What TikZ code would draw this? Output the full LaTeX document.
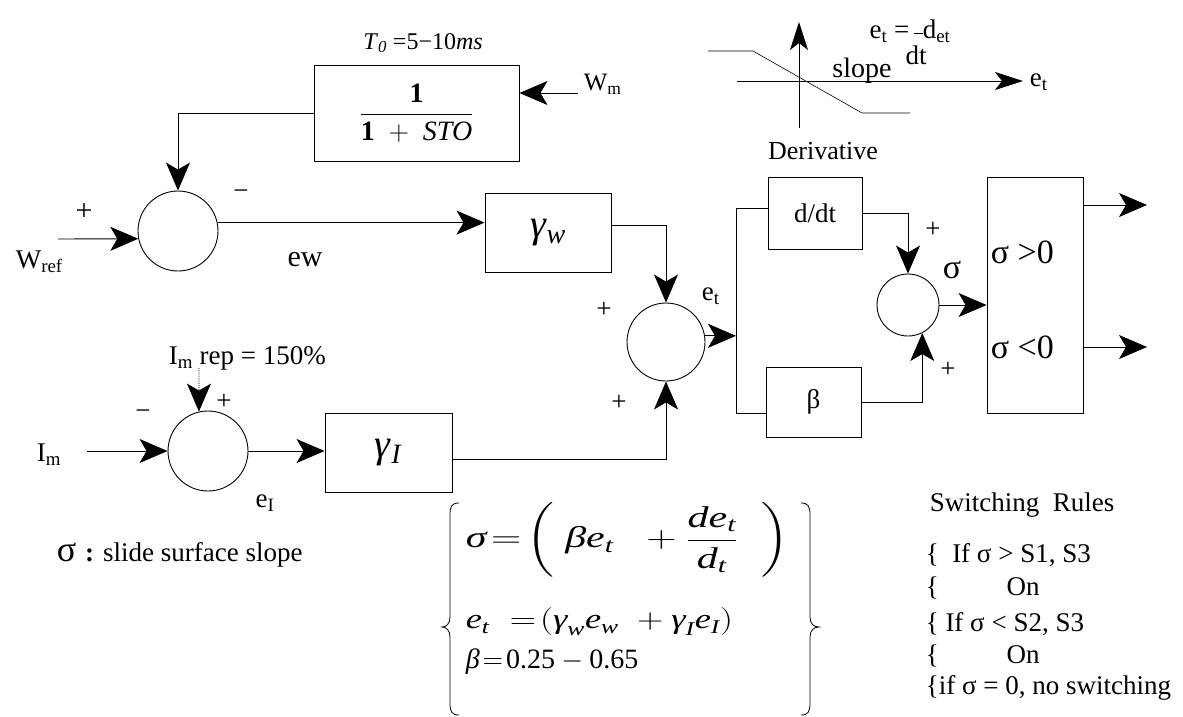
\RequirePackage{fix-cm}
\documentclass[tikz,border=0pt]{standalone}
\usepackage{amsmath}
\usepackage{graphicx}
\usepackage{fontspec}
\setmainfont{Liberation Serif}
\usetikzlibrary{arrows.meta,calc}
\newcommand{\itx}[1]{\textit{#1}}

\begin{document}
\begin{tikzpicture}[x=1pt,y=-1pt,line width=0.9pt,
  font=\fontsize{27}{32}\selectfont,
  blk/.style={draw,inner sep=0pt},
  sum/.style={draw,circle,inner sep=0pt},
  arr/.style={-{Stealth[length=28pt,width=24pt,inset=7pt]}},
  axarr/.style={-{Stealth[length=28pt,width=18pt,inset=7pt]}}]
  \useasboundingbox (0,0) rectangle (1183,716);

  % blocks
  \node[blk,minimum width=205pt,minimum height=96pt] (fb) at (416.5,113)
    {\fontsize{28}{28}\selectfont $\dfrac{\textbf{1}}{\textbf{1}\;+\;\itx{STO}}$};
  \node[blk,minimum width=126pt,minimum height=79pt] (gw) at (548,232.5)
    {\fontsize{40}{40}\selectfont \itx{γ}\textsubscript{\itx{w}}};
  \node[blk,minimum width=127pt,minimum height=79pt] (gi) at (388.5,452.5)
    {\fontsize{40}{40}\selectfont \itx{γ}\textsubscript{\itx{I}}};
  \node[blk,minimum width=94pt,minimum height=72pt] (dd) at (815,213) {d/dt};
  \node[blk,minimum width=95pt,minimum height=70pt] (bt) at (813.5,402) {β};
  \node[blk,minimum width=96pt,minimum height=236pt] (sb) at (1035,295) {};

  % summing points
  \node[sum,minimum size=80pt] (sw) at (178,231) {};
  \node[sum,minimum size=80pt] (si) at (208,451) {};
  \node[sum,minimum size=78pt] (se) at (666,342) {};
  \node[sum,minimum size=62pt] (ss) at (908,305) {};

  % free ends
  \coordinate (wref) at (58,239);
  \coordinate (wm) at (578,93);
  \coordinate (imin) at (87,451);
  \coordinate (imr) at (199,368);
  \coordinate (brt) at (736,208);
  \coordinate (brb) at (736,413);
  \coordinate (o1) at (1147,205);
  \coordinate (o2) at (1147,347);

  % labels
  \node (t0) at (423,43) {\fontsize{24}{28}\selectfont\textit{T}\textsubscript{\textit{0}} =5−10\textit{ms}};
  \node[anchor=west] (lwm) at (580,84) {\fontsize{25}{28}\selectfont W\textsubscript{m}};
  \node (p1) at (84,212) {\fontsize{30}{32}\selectfont +};
  \node[anchor=west] (lwref) at (12,262) {W\textsubscript{ref}};
  \node (m1) at (241,195) {−};
  \node (lew) at (305,260) {\fontsize{30}{34}\selectfont ew};
  \node[anchor=west] (lrep) at (165,358) {I\textsubscript{m} rep = 150\%};
  \node (p2) at (224,402) {+};
  \node (m2) at (143,415) {−};
  \node[anchor=west] (lim) at (33,455) {I\textsubscript{m}};
  \node (lei) at (265,503) {e\textsubscript{I}};
  \node (p3) at (604,310) {+};
  \node (p4) at (619,403) {+};
  \node[anchor=west] (let) at (698,296) {e\textsubscript{t}};
  \node (p5) at (933,230) {+};
  \node (lsg) at (952,270) {\fontsize{34}{34}\selectfont σ};
  \node (p6) at (948,370) {+};
  \node[anchor=west] (gt) at (987,252) {\fontsize{34}{34}\selectfont σ >0};
  \node[anchor=west] (lt) at (987,347) {\fontsize{34}{34}\selectfont σ <0};

  % derivative sketch
  \coordinate (vx0) at (799,128);
  \coordinate (vx1) at (799,22);
  \coordinate (hx0) at (737,81);
  \coordinate (hx1) at (1023,81);
  \draw[axarr] (vx0) -- (vx1);
  \draw[axarr] (hx0) -- (hx1);
  \draw[line width=0.6pt] (708,51) -- (753,51) -- (862,113) -- (910,113);
  \node[anchor=west] (lax) at (1026,82) {e\textsubscript{t}};
  \node (lsl) at (862,71) {\fontsize{28}{30}\selectfont slope};
  \node (ldt) at (910,31) {\fontsize{27}{30}\selectfont e\textsubscript{t} =\,\rule[5pt]{9pt}{0.7pt}d\textsubscript{et}};
  \node (ldt2) at (916,55) {\fontsize{27}{30}\selectfont dt};
  \node (lder) at (823,151) {\fontsize{26}{30}\selectfont Derivative};

  % connections
  \draw[arr] (fb.west) -| (sw.north);
  \draw[arr] (wm) -- (wm -| fb.east);
  \draw[arr] (wref) -- (sw.191);
  \draw[arr] (sw.12) -- (sw.12 -| gw.west);
  \draw[arr] ($(gw.east)+(0,-7)$) -| (se.north);
  \draw[arr] (imin) -- (si.west);
  \draw[arr,densely dotted] (imr) -- (si.103);
  \draw[arr] (si.east) -- (si.east -| gi.west);
  \draw[arr] ($(gi.east)+(0,7)$) -| (se.south);
  \draw[arr] (se.9) -- (se.9 -| brt);
  \draw (brt) -- (brb);
  \draw (brt) -- (brt -| dd.west);
  \draw (brb) -- (brb -| bt.west);
  \draw[arr] (dd.east) -| (ss.north);
  \draw[arr] (bt.east) -| (ss.-63);
  \draw[arr] (ss.east) -- (ss.east -| sb.west);
  \draw[arr] (o1 -| sb.east) -- (o1);
  \draw[arr] (o2 -| sb.east) -- (o2);

  % notes
  \node[anchor=west] (lsig) at (53,555)
    {{\fontsize{36}{36}\selectfont σ}\,\,\textbf{:}\,\,slide surface slope};

  % formula
  \draw[line width=0.8pt] (459,503) .. controls (452,503) and (450,506) .. (450,515)
    -- (450,617) .. controls (450,624) and (446,627) .. (442,627)
    .. controls (446,627) and (450,630) .. (450,637)
    -- (450,703) .. controls (450,712) and (452,715) .. (459,715);
  \draw[line width=0.8pt] (801,503) .. controls (808,503) and (810,506) .. (810,515)
    -- (810,617) .. controls (810,624) and (814,627) .. (819,627)
    .. controls (814,627) and (810,630) .. (810,637)
    -- (810,703) .. controls (810,712) and (808,715) .. (801,715);
  \node[anchor=west] (f1) at (462,540)
    {\fontsize{30}{34}\selectfont\scalebox{1.4}[1]{$\itx{σ}\!=\!\left(\;\itx{β}\itx{e}_{\itx{t}}\;\;+\dfrac{\itx{de}_{\itx{t}}}{\itx{d}_{\itx{t}}}\;\;\right)$}};
  \node[anchor=west] (f2) at (462,622)
    {\fontsize{28}{32}\selectfont\scalebox{1.3}[1]{$\itx{e}_{\itx{t}}\;=\!(\itx{γ}_{\itx{w}}\itx{e}_{\itx{w}}\;+\itx{γ}_{\itx{I}}\itx{e}_{\itx{I}})$}};
  \node[anchor=west] (f3) at (462,662)
    {\fontsize{28}{32}\selectfont $\itx{β}\!=\!\textup{0.25}-\textup{0.65}$};

  % switching rules
  \node[anchor=west] (sr) at (926,505) {Switching\ \ Rules};
  \node[anchor=west] (r1) at (922,555) {\{\ \ If σ > S1, S3};
  \node[anchor=west] (r2) at (922,588) {\{\hspace{68pt}On};
  \node[anchor=west] (r3) at (922,624) {\{ If σ < S2, S3};
  \node[anchor=west] (r4) at (922,656) {\{\hspace{68pt}On};
  \node[anchor=west] (r5) at (922,688) {\{if σ = 0, no switching};
\end{tikzpicture}
\end{document}
